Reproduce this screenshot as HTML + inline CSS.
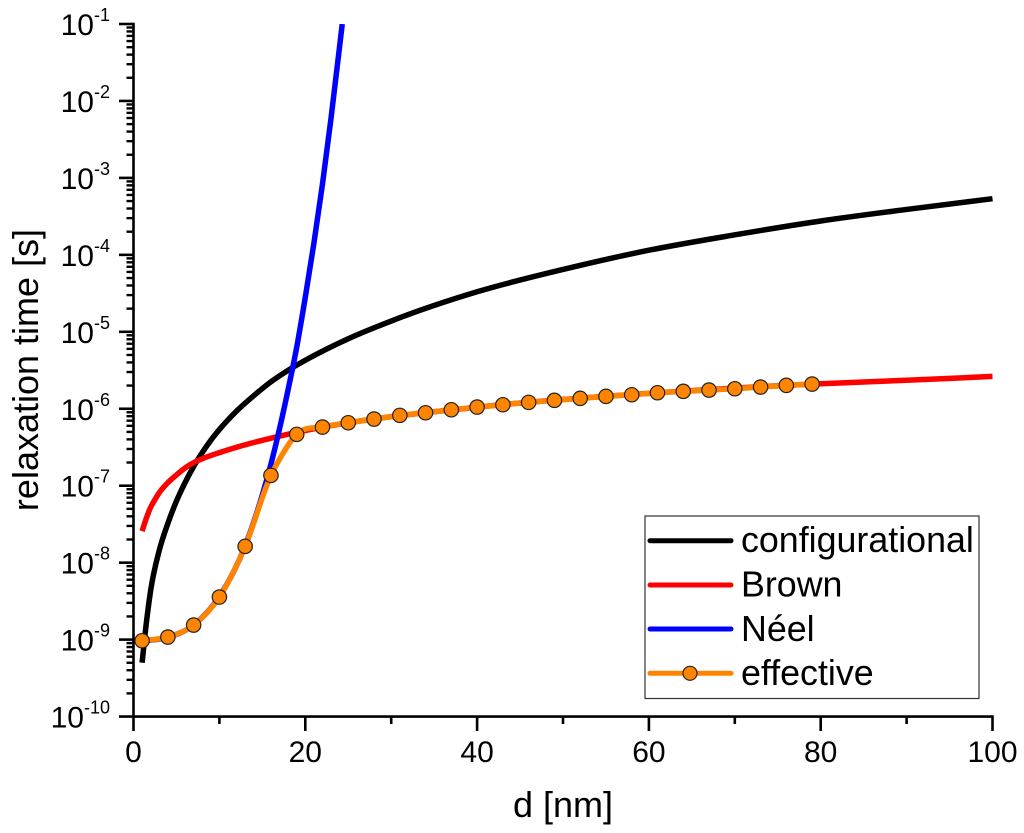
<!DOCTYPE html>
<html>
<head>
<meta charset="utf-8">
<title>Relaxation time vs particle diameter</title>
<style>
html,body{margin:0;padding:0;background:#fff;}
svg{display:block;font-family:"Liberation Sans",sans-serif;filter:blur(0.35px);}
</style>
</head>
<body>
<svg id="chart" xmlns="http://www.w3.org/2000/svg" width="1024" height="833" viewBox="0 0 1024 833">
  <defs><clipPath id="plot-clip"><rect x="100" y="24" width="924" height="693"/></clipPath></defs>
  <g id="series" clip-path="url(#plot-clip)"></g>
  <g id="axes"></g>
  <text x="563" y="817" font-size="36" text-anchor="middle" fill="#000">d [nm]</text>
  <text transform="translate(38,370) rotate(-90)" font-size="36" text-anchor="middle" fill="#000">relaxation time [s]</text>
  <g>
    <rect x="645" y="516" width="334" height="182.5" fill="#fff" stroke="#333" stroke-width="1.2"/>
    <line x1="650" x2="731" y1="540.7" y2="540.7" stroke="#000" stroke-width="5" stroke-linecap="round"/>
    <text x="741" y="552" font-size="35.8" fill="#000">configurational</text>
    <line x1="650" x2="731" y1="585" y2="585" stroke="#ff0000" stroke-width="5" stroke-linecap="round"/>
    <text x="741" y="596.5" font-size="35.8" fill="#000">Brown</text>
    <line x1="650" x2="731" y1="629" y2="629" stroke="#0000ff" stroke-width="5" stroke-linecap="round"/>
    <text x="741" y="641" font-size="35.8" fill="#000">Néel</text>
    <line x1="650" x2="731" y1="673.3" y2="673.3" stroke="#ff8400" stroke-width="5" stroke-linecap="round"/>
    <circle cx="690" cy="673.3" r="7" fill="#ff8400" stroke="#222" stroke-width="1.2"/>
    <text x="741" y="685" font-size="35.8" fill="#000">effective</text>
  </g>
</svg>
<script>
const xTickValues = [0, 20, 40, 60, 80, 100];
const xMinorValues = [10, 30, 50, 70, 90];
const yDecadeValues = [-1, -2, -3, -4, -5, -6, -7, -8, -9, -10];
const yMinorFactors = [2, 3, 4, 5, 6, 7, 8, 9];

const configD = [1, 1.5, 2, 3, 4, 5, 6, 7, 8, 9, 10, 12, 14, 16, 18, 20, 25, 30, 40, 50, 60, 70, 80, 90, 100];
const configLog = [-9.30, -8.78, -8.36, -7.84, -7.49, -7.20, -6.96, -6.75, -6.57, -6.41, -6.27, -6.03, -5.83, -5.65, -5.50, -5.37, -5.09, -4.86, -4.48, -4.19, -3.94, -3.74, -3.56, -3.41, -3.27];

const brownD = [1, 1.5, 2, 2.5, 3, 3.5, 4, 5, 6, 7, 8, 10, 12, 15, 18, 22, 40, 60, 79, 90, 100];
const brownLog = [-7.59, -7.42, -7.28, -7.18, -7.09, -7.02, -6.96, -6.86, -6.77, -6.70, -6.65, -6.57, -6.50, -6.41, -6.33, -6.24, -5.98, -5.80, -5.68, -5.63, -5.58];

const neelD = [1, 4, 7, 10, 13, 14, 15, 16, 17, 18, 19, 20, 21, 22, 23, 24.3];
const neelLog = [-9.02, -8.97, -8.81, -8.44, -7.78, -7.47, -7.12, -6.72, -6.26, -5.75, -5.20, -4.55, -3.85, -3.08, -2.22, -1.00];

const effectiveD = [1, 4, 7, 10, 13, 16, 17.4, 18.4, 19, 22, 25, 28, 31, 34, 37, 40, 43, 46, 49, 52, 55, 58, 61, 64, 67, 70, 73, 76, 79];
const effectiveLog = [-9.015, -8.967, -8.811, -8.447, -7.788, -6.866, -6.58, -6.41, -6.333, -6.238, -6.182, -6.134, -6.086, -6.052, -6.013, -5.978, -5.948, -5.917, -5.891, -5.865, -5.839, -5.818, -5.792, -5.774, -5.757, -5.740, -5.718, -5.696, -5.679];

const SVGNS = 'http://www.w3.org/2000/svg';
const xScale = d => 133.5 + d * 8.59;
const yScale = v => 24 + (-1 - v) * 76.95;

function make(tag, attrs, parent) {
  const el = document.createElementNS(SVGNS, tag);
  for (const k in attrs) el.setAttribute(k, attrs[k]);
  parent.appendChild(el);
  return el;
}

function smoothPath(xs, ys) {
  const p = xs.map((d, i) => [xScale(d), yScale(ys[i])]);
  const n = p.length;
  const h = [], sec = [];
  for (let i = 0; i < n - 1; i++) {
    h.push(p[i + 1][0] - p[i][0]);
    sec.push((p[i + 1][1] - p[i][1]) / h[i]);
  }
  const m = p.map((_, i) => {
    if (i === 0) return sec[0];
    if (i === n - 1) return sec[n - 2];
    return (h[i] * sec[i - 1] + h[i - 1] * sec[i]) / (h[i - 1] + h[i]);
  });
  let s = 'M' + p[0][0].toFixed(2) + ' ' + p[0][1].toFixed(2);
  for (let i = 0; i < n - 1; i++) {
    s += 'C' + (p[i][0] + h[i] / 3).toFixed(2) + ' ' + (p[i][1] + m[i] * h[i] / 3).toFixed(2) + ' ' +
         (p[i + 1][0] - h[i] / 3).toFixed(2) + ' ' + (p[i + 1][1] - m[i + 1] * h[i] / 3).toFixed(2) + ' ' +
         p[i + 1][0].toFixed(2) + ' ' + p[i + 1][1].toFixed(2);
  }
  return s;
}

const series = document.getElementById('series');
const axes = document.getElementById('axes');
const lineAttrs = { fill: 'none', 'stroke-width': 5.5, 'stroke-linejoin': 'round' };

const configLine = make('path', Object.assign({ d: smoothPath(configD, configLog), stroke: '#000000' }, lineAttrs), series);



const brownLine = make('path', Object.assign({ d: smoothPath(brownD, brownLog), stroke: '#ff0000' }, lineAttrs), series);



const neelLine = make('path', Object.assign({ d: smoothPath(neelD, neelLog), stroke: '#0000ff' }, lineAttrs), series);



const effectiveLine = make('path', Object.assign({ d: smoothPath(effectiveD, effectiveLog), stroke: '#ff8400' }, lineAttrs), series);



effectiveD.forEach((d, i) => {
  if (!Number.isInteger(d) || (d - 1) % 3 !== 0) return;
  const marker = make('circle', { cx: xScale(d), cy: yScale(effectiveLog[i]), r: 7.2, fill: '#ff8400', stroke: '#222', 'stroke-width': 1.2 }, series);
  
  
});

// Axis lines
const yAxisLine = make('line', { x1: xScale(0), x2: xScale(0), y1: yScale(-1) - 1.2, y2: yScale(-10) + 1.2, stroke: '#000', 'stroke-width': 2.6 }, axes);


const xAxisLine = make('line', { x1: xScale(0), x2: xScale(100) + 1.2, y1: yScale(-10), y2: yScale(-10), stroke: '#000', 'stroke-width': 2.6 }, axes);



// Y ticks
yDecadeValues.forEach(v => {
  const y = yScale(v);
  const tick = make('line', { x1: 119, x2: xScale(0), y1: y, y2: y, stroke: '#000', 'stroke-width': 2.6 }, axes);
  
  
  const label = make('text', { x: 110, y: y + 11, 'text-anchor': 'end', 'font-size': 30, fill: '#000' }, axes);
  
  
  const base = make('tspan', {}, label);
  base.textContent = '10';
  const sup = make('tspan', { dy: -14, 'font-size': 18 }, label);
  sup.textContent = String(v);
  if (v > -10) {
    yMinorFactors.forEach(f => {
      const my = yScale(v - 1 + Math.log10(f));
      const minor = make('line', { x1: 126.5, x2: xScale(0), y1: my, y2: my, stroke: '#000', 'stroke-width': 2.4 }, axes);
      
      
    });
  }
});

// X ticks
xTickValues.forEach(v => {
  const x = xScale(v);
  const tick = make('line', { x1: x, x2: x, y1: yScale(-10), y2: 731, stroke: '#000', 'stroke-width': 2.6 }, axes);
  
  
  const label = make('text', { x: x, y: 762, 'text-anchor': 'middle', 'font-size': 30, fill: '#000' }, axes);
  
  
  label.textContent = String(v);
});
xMinorValues.forEach(v => {
  const x = xScale(v);
  const minor = make('line', { x1: x, x2: x, y1: yScale(-10), y2: 724, stroke: '#000', 'stroke-width': 2.6 }, axes);
  
  
});
</script>
</body>
</html>
